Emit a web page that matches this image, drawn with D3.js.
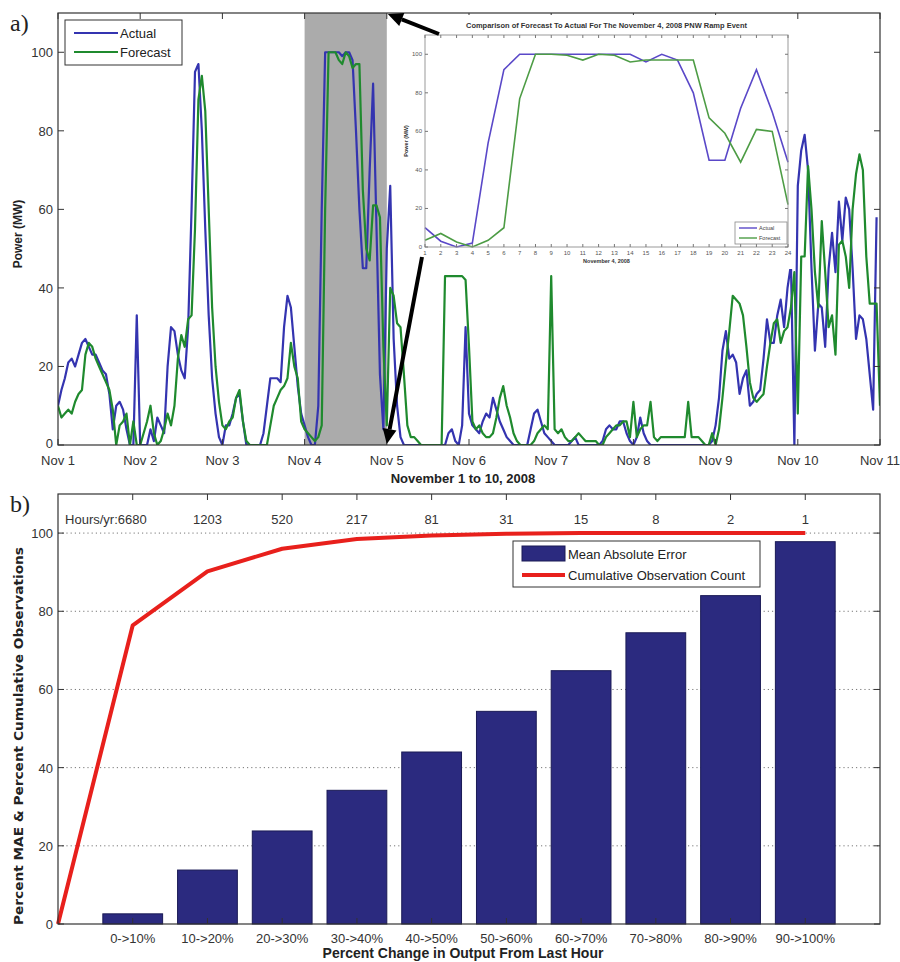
<!DOCTYPE html>
<html><head><meta charset="utf-8">
<script src="https://cdn.jsdelivr.net/npm/d3@7"></script>
<style>body{margin:0;background:#fff}svg{display:block}</style>
</head><body>
<svg id="chart" width="900" height="962"></svg>
<script>
// ---------- DATA ----------
const dayLabels = ["Nov 1","Nov 2","Nov 3","Nov 4","Nov 5","Nov 6","Nov 7","Nov 8","Nov 9","Nov 10","Nov 11"];
const powerTicks = [0,20,40,60,80,100];
// hourly values, hour 0 (Nov 1 00:00) .. hour 240 (Nov 11 00:00)
const actualMW = [
 10,14,17,21,22,20,23,26,27,25,23,23,21,19,18,13,4,10,11,9,4,0,0,33,0,
 0,0,4,1,7,5,3,20,30,29,23,19,17,30,60,95,97,80,55,33,17,8,2,0,
 5,5,8,12,13,6,0,0,0,0,0,3,10,17,17,17,16,30,38,35,25,15,8,5,
 2,0,0,10,60,100,100,100,100,100,99,100,100,98,80,60,45,45,70,92,55,18,4,
 50,66,27,10,2,0,0,0,0,0,0,0,0,0,0,0,0,0,3,4,1,0,5,30,
 8,5,4,3,6,8,7,12,9,6,4,2,1,0,0,0,0,0,4,8,9,6,3,2,
 1,0,0,0,0,0,1,2,0,0,0,0,0,0,0,1,4,5,4,4,6,6,3,1,
 0,2,7,3,1,0,0,0,0,0,0,0,0,0,0,0,0,0,0,0,0,0,0,1,
 5,12,24,29,22,23,21,13,17,19,10,11,13,14,22,32,26,26,33,37,30,40,46,0,
 66,75,79,70,45,24,36,35,25,45,54,44,62,52,63,60,45,27,33,32,27,18,9,58
];
const forecastMW = [
 10,7,8,9,8,11,13,14,23,26,25,22,20,18,16,14,9,0,5,6,8,0,6,0,0,
 3,6,10,3,0,1,4,8,5,10,22,28,25,32,33,55,88,94,85,60,35,20,11,5,
 4,6,7,12,14,6,1,0,0,0,0,0,0,5,10,12,14,15,17,26,20,17,6,4,
 3,2,1,2,5,60,100,100,100,98,97,100,99,96,97,97,65,50,47,61,61,58,25,5,
 40,38,31,30,18,5,2,2,1,0,0,0,0,0,0,0,43,43,43,43,43,43,42,25,
 6,4,5,3,2,2,3,7,12,15,10,7,3,1,0,0,0,0,1,3,4,5,4,43,
 4,3,4,2,1,1,2,3,2,1,1,1,1,0,0,2,3,4,5,5,6,6,2,11,
 2,4,5,5,11,2,1,2,2,2,2,2,2,2,2,11,2,2,2,1,0,0,3,0,
 4,12,21,29,38,37,36,33,25,16,12,11,12,13,20,26,31,32,26,29,30,35,44,8,
 48,48,71,60,44,35,57,44,30,33,23,51,52,48,40,60,69,74,70,48,36,36,36,10
];
// inset: November 4, 2008 hourly
const insetHours = [1,2,3,4,5,6,7,8,9,10,11,12,13,14,15,16,17,18,19,20,21,22,23,24];
const insetActual = [10,3,0,2,54,92,100,100,100,100,100,100,100,100,96,100,97,80,45,45,72,92,70,44];
const insetForecast = [3.5,7,2.6,0,3.5,10,77,100,100,99.5,97,100,99.5,96,97,97,97,97,67,59,44,61,60,22];
const insetYTicks = [0,20,40,60,80,100];

// bottom panel
const changeBins = ["0->10%","10->20%","20->30%","30->40%","40->50%","50->60%","60->70%","70->80%","80->90%","90->100%"];
const maePercent = [2.6,13.8,23.8,34.2,44,54.4,64.8,74.5,84,97.8];
const cumulativeObsPercent = [0,76.4,90.2,96,98.5,99.4,99.8,100,100,100,100];
const hoursPerYear = ["Hours/yr:6680","1203","520","217","81","31","15","8","2","1"];
const percentTicks = [0,20,40,60,80,100];

// ---------- DRAW ----------
const svg = d3.select("#chart");
const FONT = "'Liberation Sans', Arial, sans-serif";
const NARROW = "'Liberation Sans Narrow', 'Liberation Sans', Arial, sans-serif";
const BLUE = "#3434b0", GREEN = "#1f8a2e";

// ===== Panel a =====
const A = {l:58, r:880, t:13, b:445};
const xA = d3.scaleLinear().domain([0,240]).range([A.l, A.r]);
const yA = d3.scaleLinear().domain([0,110]).range([A.b, A.t]);
const dayHour = dayLabels.map((d,i)=>i*24);

svg.append("defs").append("clipPath").attr("id","clipA")
  .append("rect").attr("x",A.l).attr("y",A.t).attr("width",A.r-A.l).attr("height",A.b-A.t);

const gA = svg.append("g");
gA.append("rect").attr("x",xA(72)).attr("y",A.t).attr("width",xA(96)-xA(72)).attr("height",A.b-A.t)
  .attr("fill","#ababab");

const lineA = d3.line().x((d,i)=>xA(i)).y(d=>yA(d)).curve(d3.curveLinear);
const plotA = gA.append("g").attr("clip-path","url(#clipA)");
plotA.append("path").datum(actualMW).attr("d",lineA).attr("fill","none").attr("stroke",BLUE).attr("stroke-width",2.2).attr("stroke-linejoin","round");
plotA.append("path").datum(forecastMW).attr("d",lineA).attr("fill","none").attr("stroke",GREEN).attr("stroke-width",2.2).attr("stroke-linejoin","round");

gA.append("rect").attr("x",A.l).attr("y",A.t).attr("width",A.r-A.l).attr("height",A.b-A.t).attr("fill","none").attr("stroke","#333").attr("stroke-width",1.2);
dayHour.forEach((h,i)=>{
  const x = xA(h);
  gA.append("line").attr("x1",x).attr("x2",x).attr("y1",A.b).attr("y2",A.b-6).attr("stroke","#333");
  gA.append("line").attr("x1",x).attr("x2",x).attr("y1",A.t).attr("y2",A.t+6).attr("stroke","#333");
  gA.append("text").attr("x",x).attr("y",A.b+20).attr("text-anchor","middle").attr("font-family",FONT).attr("font-size",13).attr("fill","#333").text(dayLabels[i]);
});
powerTicks.forEach(v=>{
  const y = yA(v);
  gA.append("line").attr("x1",A.l).attr("x2",A.l+6).attr("y1",y).attr("y2",y).attr("stroke","#333");
  gA.append("line").attr("x1",A.r).attr("x2",A.r-6).attr("y1",y).attr("y2",y).attr("stroke","#333");
  gA.append("text").attr("x",A.l-5).attr("y",y+(v===0?3:5)).attr("text-anchor","end").attr("font-family",FONT).attr("font-size",13).attr("fill","#333").text(v);
});
gA.append("text").attr("transform",`translate(22,${(A.t+A.b)/2+5}) rotate(-90)`).attr("text-anchor","middle")
  .attr("font-family",FONT).attr("font-weight","bold").attr("font-size",12).attr("fill","#222").text("Power (MW)");
gA.append("text").attr("x",463).attr("y",483).attr("text-anchor","middle")
  .attr("font-family",FONT).attr("font-weight","bold").attr("font-size",13).attr("fill","#222").text("November 1 to 10, 2008");
svg.append("text").attr("x",10).attr("y",31).attr("font-family","'Liberation Serif', 'Times New Roman', serif").attr("font-size",24).attr("fill","#222").text("a)");

const legA = gA.append("g");
legA.append("rect").attr("x",65).attr("y",20).attr("width",117).attr("height",45).attr("fill","#fff").attr("stroke","#333").attr("stroke-width",1);
[["Actual",BLUE,33],["Forecast",GREEN,52]].forEach(([t,c,y])=>{
  legA.append("line").attr("x1",74).attr("x2",118).attr("y1",y).attr("y2",y).attr("stroke",c).attr("stroke-width",2.2);
  legA.append("text").attr("x",120).attr("y",y+5).attr("font-family",FONT).attr("font-size",13).attr("fill","#222").text(t);
});

// ===== Inset =====
const I = {l:425, r:788, t:35, b:247};
svg.append("rect").attr("x",396).attr("y",15).attr("width",398).attr("height",254).attr("fill","#fff");
const xI = d3.scaleLinear().domain([1,24]).range([I.l, I.r]);
const yI = d3.scaleLinear().domain([0,110]).range([I.b, I.t]);
const gI = svg.append("g");
const lineI = d3.line().x((d,i)=>xI(insetHours[i])).y(d=>yI(d));
gI.append("path").datum(insetActual).attr("d",lineI).attr("fill","none").attr("stroke","#5a48c8").attr("stroke-width",1.6);
gI.append("path").datum(insetForecast).attr("d",lineI).attr("fill","none").attr("stroke","#4d9c45").attr("stroke-width",1.6);
gI.append("rect").attr("x",I.l).attr("y",I.t).attr("width",I.r-I.l).attr("height",I.b-I.t).attr("fill","none").attr("stroke","#999").attr("stroke-width",1);
insetHours.forEach(h=>{
  const x = xI(h);
  gI.append("line").attr("x1",x).attr("x2",x).attr("y1",I.b).attr("y2",I.b-3).attr("stroke","#777");
  gI.append("line").attr("x1",x).attr("x2",x).attr("y1",I.t).attr("y2",I.t+3).attr("stroke","#777");
  gI.append("text").attr("x",x).attr("y",I.b+8).attr("text-anchor","middle").attr("font-family",FONT).attr("font-size",6).attr("fill","#555").text(h);
});
insetYTicks.forEach(v=>{
  const y = yI(v);
  gI.append("line").attr("x1",I.l).attr("x2",I.l+3).attr("y1",y).attr("y2",y).attr("stroke","#777");
  gI.append("line").attr("x1",I.r).attr("x2",I.r-3).attr("y1",y).attr("y2",y).attr("stroke","#777");
  gI.append("text").attr("x",I.l-3).attr("y",y+2).attr("text-anchor","end").attr("font-family",FONT).attr("font-size",6).attr("fill","#555").text(v);
});
gI.append("text").attr("x",(I.l+I.r)/2).attr("y",28).attr("text-anchor","middle").attr("font-family",FONT).attr("font-weight","bold")
  .attr("font-size",7).attr("fill","#333").attr("textLength",281).attr("lengthAdjust","spacingAndGlyphs")
  .text("Comparison of Forecast To Actual For The November 4, 2008 PNW Ramp Event");
gI.append("text").attr("x",(I.l+I.r)/2).attr("y",263).attr("text-anchor","middle").attr("font-family",FONT).attr("font-weight","bold")
  .attr("font-size",5.5).attr("fill","#333").text("November 4, 2008");
gI.append("text").attr("transform",`translate(408,${(I.t+I.b)/2}) rotate(-90)`).attr("text-anchor","middle").attr("font-family",FONT).attr("font-weight","bold")
  .attr("font-size",5.5).attr("fill","#333").text("Power (MW)");
const legI = gI.append("g");
legI.append("rect").attr("x",735).attr("y",222).attr("width",52).attr("height",22).attr("fill","#fff").attr("stroke","#888").attr("stroke-width",0.8);
[["Actual","#5a48c8",228],["Forecast","#4d9c45",238]].forEach(([t,c,y])=>{
  legI.append("line").attr("x1",739).attr("x2",757).attr("y1",y).attr("y2",y).attr("stroke",c).attr("stroke-width",1.4);
  legI.append("text").attr("x",759).attr("y",y+2).attr("font-family",FONT).attr("font-size",5.5).attr("fill","#444").text(t);
});

function arrow(x1,y1,x2,y2){
  const ang = Math.atan2(y2-y1,x2-x1), L=15, W=7;
  const bx = x2 - L*Math.cos(ang), by = y2 - L*Math.sin(ang);
  svg.append("line").attr("x1",x1).attr("y1",y1).attr("x2",bx).attr("y2",by).attr("stroke","#000").attr("stroke-width",4);
  svg.append("polygon").attr("points",[[x2,y2],[bx+W*Math.sin(ang),by-W*Math.cos(ang)],[bx-W*Math.sin(ang),by+W*Math.cos(ang)]].map(p=>p.join(",")).join(" ")).attr("fill","#000");
}
arrow(I.l+14, I.t-1, xA(96)+1, A.t+1);
arrow(xI(1)-3, I.b+10, xA(96), A.b-1);

// ===== Panel b =====
const B = {l:58, r:880, t:494, b:924};
const xB = d3.scaleLinear().domain([0,11]).range([B.l, B.r]);
const yB = d3.scaleLinear().domain([0,110]).range([B.b, B.t]);
const gB = svg.append("g");
percentTicks.filter(v=>v>0).forEach(v=>{
  gB.append("line").attr("x1",B.l).attr("x2",B.r).attr("y1",yB(v)).attr("y2",yB(v)).attr("stroke","#777").attr("stroke-width",1).attr("stroke-dasharray","1.2,3");
});
const bw = (xB(1)-xB(0))*0.8;
gB.selectAll("rect.bar").data(maePercent).join("rect").attr("class","bar")
  .attr("x",(d,i)=>xB(i+1)-bw/2).attr("width",bw)
  .attr("y",d=>yB(d)).attr("height",d=>yB(0)-yB(d))
  .attr("fill","#2b2a7f").attr("stroke","#1a1a55").attr("stroke-width",1);
const lineB = d3.line().x((d,i)=>xB(i)).y(d=>yB(d));
gB.append("path").datum(cumulativeObsPercent).attr("d",lineB).attr("fill","none").attr("stroke","#e8201c").attr("stroke-width",4).attr("stroke-linejoin","round");
gB.append("rect").attr("x",B.l).attr("y",B.t).attr("width",B.r-B.l).attr("height",B.b-B.t).attr("fill","none").attr("stroke","#333").attr("stroke-width",1.2);
changeBins.forEach((c,i)=>{
  const x = xB(i+1);
  gB.append("line").attr("x1",x).attr("x2",x).attr("y1",B.b).attr("y2",B.b-6).attr("stroke","#333");
  gB.append("line").attr("x1",x).attr("x2",x).attr("y1",B.t).attr("y2",B.t+6).attr("stroke","#333");
  gB.append("text").attr("x",x).attr("y",B.b+19).attr("text-anchor","middle").attr("font-family",NARROW).attr("font-size",13).attr("fill","#333").text(c);
  const hp = gB.append("text").attr("y",B.t+30).attr("font-family",FONT).attr("font-size",13).attr("fill","#333").text(hoursPerYear[i]);
  if(i===0) hp.attr("x",x+14).attr("text-anchor","end"); else hp.attr("x",x).attr("text-anchor","middle");
});
percentTicks.forEach(v=>{
  const y = yB(v);
  gB.append("line").attr("x1",B.l).attr("x2",B.l+6).attr("y1",y).attr("y2",y).attr("stroke","#333");
  gB.append("line").attr("x1",B.r).attr("x2",B.r-6).attr("y1",y).attr("y2",y).attr("stroke","#333");
  gB.append("text").attr("x",B.l-5).attr("y",y+5).attr("text-anchor","end").attr("font-family",FONT).attr("font-size",13).attr("fill","#333").text(v);
});
gB.append("text").attr("transform",`translate(23,736) rotate(-90)`).attr("text-anchor","middle")
  .attr("font-family","'DejaVu Sans', Verdana, sans-serif").attr("font-weight","bold").attr("font-size",13).attr("fill","#222")
  .attr("textLength",378).attr("lengthAdjust","spacingAndGlyphs")
  .text("Percent MAE & Percent Cumulative Observations");
gB.append("text").attr("x",463).attr("y",958).attr("text-anchor","middle")
  .attr("font-family",NARROW).attr("font-weight","bold").attr("font-size",14).attr("fill","#222").text("Percent Change in Output From Last Hour");
svg.append("text").attr("x",10).attr("y",512).attr("font-family","'Liberation Serif', 'Times New Roman', serif").attr("font-size",24).attr("fill","#222").text("b)");

const legB = gB.append("g");
legB.append("rect").attr("x",513).attr("y",541).attr("width",247).attr("height",46).attr("fill","#fff").attr("stroke","#333").attr("stroke-width",1);
legB.append("rect").attr("x",522).attr("y",546).attr("width",43).attr("height",15).attr("fill","#2b2a7f").attr("stroke","#1a1a55");
legB.append("text").attr("x",568).attr("y",559).attr("font-family",FONT).attr("font-size",13).attr("fill","#222").text("Mean Absolute Error");
legB.append("line").attr("x1",522).attr("x2",565).attr("y1",575).attr("y2",575).attr("stroke","#e8201c").attr("stroke-width",4);
legB.append("text").attr("x",568).attr("y",580).attr("font-family",FONT).attr("font-size",13).attr("fill","#222").text("Cumulative Observation Count");
</script>
</body></html>
